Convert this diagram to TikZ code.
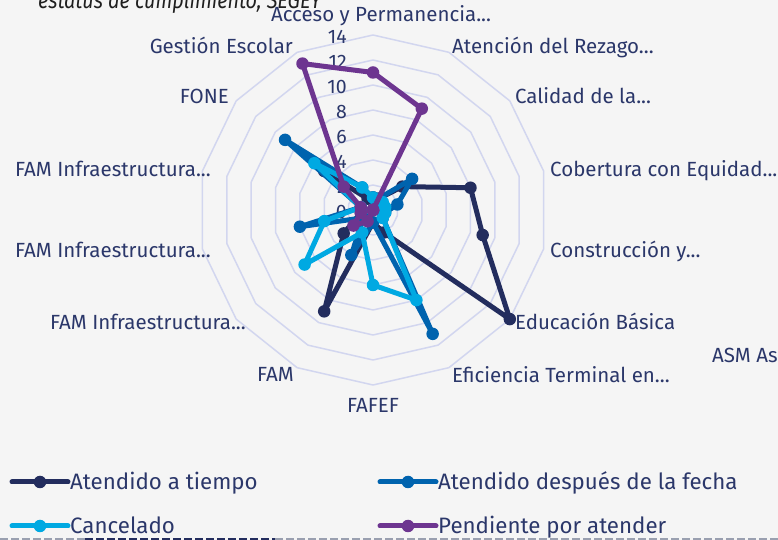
\documentclass[tikz,border=0pt]{standalone}
\usepackage{fontspec}
\setmainfont{Fira Sans}
\newfontfamily\titlefont{Fira Sans}[FakeStretch=0.86]
\definecolor{bg}{HTML}{F5F5F5}
\definecolor{gridc}{HTML}{D2D6EF}
\definecolor{txt}{HTML}{2B376A}
\definecolor{sA}{HTML}{232D5E}
\definecolor{sB}{HTML}{0063AE}
\definecolor{sC}{HTML}{00A9E2}
\definecolor{sD}{HTML}{6D3590}
\definecolor{dashg}{HTML}{9AA0B0}
\tikzset{
  gridline/.style={draw=gridc, line width=1.5pt, line join=round},
  serline/.style={line width=5pt, line join=round, line cap=round},
  dotmark/.style={circle, inner sep=0pt, minimum size=12.5pt},
  cat/.style={font=\fontsize{20.5}{24}\selectfont, text=txt, inner sep=0pt},
  tick/.style={font=\fontsize{19.5}{22}\selectfont, text=txt, inner sep=0pt, anchor=base east},
  leg/.style={font=\fontsize{22.3}{26}\selectfont, text=txt, inner sep=0pt, anchor=base west},
}
\newcommand{\drawseries}[3]{%
  \foreach \val [count=\k from 0] in {#3}{
    \coordinate (#1\k) at ({90-\k*360/14}:{12.5*\val});
  }
  \draw[serline, draw=#2] (#10) \foreach \k in {1,...,13}{ -- (#1\k)} -- cycle;
  \foreach \k in {0,...,13}{ \node[dotmark, fill=#2] (m#1\k) at (#1\k) {}; }
}
\begin{document}
\begin{tikzpicture}[x=1pt,y=1pt]
\fill[bg] (0,0) rectangle (778,540);
\useasboundingbox (0,0) rectangle (778,540);
% title (clipped at the top edge, as in the reference)
\node[font=\titlefont\fontsize{23}{27}\selectfont\itshape, text=black!88, inner sep=0pt, anchor=base west] (title) at (38,531) {estatus de cumplimiento, SEGEY};
\begin{scope}[shift={(373,330)}]
\coordinate (O) at (0,0);
% rings
\foreach \r in {1,...,7}{
  \draw[gridline] (90:{25*\r}) \foreach \k in {1,...,13}{ -- ({90-\k*360/14}:{25*\r})} -- cycle;
}
% tick labels
\foreach \v in {0,2,...,14}{
  \node[tick] (t\v) at (-26,{-8.5+12.5*\v}) {\v};
}
% series
\drawseries{A}{sA}{1,1,3,8,9,14,2,1,9,3,1,1,5,1}
\drawseries{B}{sB}{1,1,4,2,1,1,11,1,4,1,6,1,9,2}
\drawseries{C}{sC}{1,0,1,1,1,1,8,6,2,7,4,1,6,2}
\drawseries{D}{sD}{11,9,0,0,0,0,0,0,1,2,1,1,3,13}
\end{scope}
% category labels
\node[cat, anchor=base] (c0) at (381,518) {Acceso y Permanencia...};
\node[cat, anchor=base west] (c1) at (452,486) {Atención del Rezago...};
\node[cat, anchor=base west] (c2) at (515,436) {Calidad de la...};
\node[cat, anchor=base west] (c3) at (550,363) {Cobertura con Equidad...};
\node[cat, anchor=base west] (c4) at (550,282) {Construcción y...};
\node[cat, anchor=base west] (c5) at (515,210) {Educación Básica};
\node[cat, anchor=base west] (c6) at (452,157) {Eficiencia Terminal en...};
\node[cat, anchor=base] (c7) at (373,127) {FAFEF};
\node[cat, anchor=base east] (c8) at (294,158) {FAM};
\node[cat, anchor=base east] (c9) at (246,210) {FAM Infraestructura...};
\node[cat, anchor=base east] (c10) at (211,282) {FAM Infraestructura...};
\node[cat, anchor=base east] (c11) at (211,363) {FAM Infraestructura...};
\node[cat, anchor=base east] (c12) at (229,436) {FONE};
\node[cat, anchor=base east] (c13) at (293,486) {Gestión Escolar};
\node[cat, anchor=base west] (asm) at (712,177) {ASM As};
% legend
\foreach \n/\c/\x/\y/\t in {la/sA/12/58/Atendido a tiempo, lb/sB/380/58/Atendido después de la fecha, lc/sC/12/14/Cancelado, ld/sD/380/14/Pendiente por atender}{
  \coordinate (\n s) at (\x,\y);
  \coordinate (\n e) at ({\x+56},\y);
  \draw[\c, line width=5pt, line cap=round] (\n s) -- (\n e);
  \node[dotmark, fill=\c] (\n m) at ({\x+28},\y) {};
  \node[leg] (\n t) at ({\x+58},{\y-8}) {\t};
}
% bottom dashed border
\coordinate (b0) at (0,1.2);
\coordinate (b1) at (85,1.2);
\coordinate (b2) at (275,1.2);
\coordinate (b3) at (778,1.2);
\draw[dashg, line width=2pt, dash pattern=on 8pt off 3pt] (b0) -- (b1);
\draw[sA, line width=2pt, dash pattern=on 8pt off 3pt] (b1) -- (b2);
\draw[dashg, line width=2pt, dash pattern=on 8pt off 3pt] (b2) -- (b3);
\end{tikzpicture}
\end{document}
